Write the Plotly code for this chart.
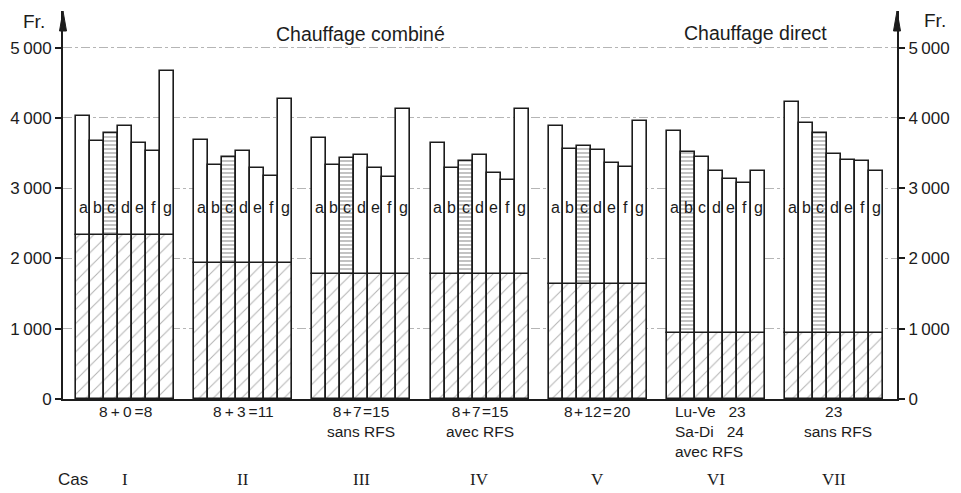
import plotly.graph_objects as go

# ---------------- data ----------------
cases = ["I", "II", "III", "IV", "V", "VI", "VII"]
letters = ["a", "b", "c", "d", "e", "f", "g"]
case_labels = [
    "8\u2009+\u20090\u2009=8",
    "8\u2009+\u20093\u2009=11",
    "8\u200a+\u200a7\u200a=15<br>sans RFS",
    "8\u200a+\u200a7\u200a=15<br>avec RFS",
    "8\u200a+\u200a12\u200a=\u200a20",
    "Lu-Ve\u00a0\u00a0\u00a023<br>Sa-Di\u00a0\u00a0\u00a024<br>avec RFS",
    "23\u00a0\u00a0<br>sans RFS",
]
base_values = [2340, 1930, 1780, 1775, 1630, 935, 935]
totals_I = [4030, 3675, 3790, 3890, 3645, 3530, 4670]
totals_II = [3685, 3330, 3440, 3530, 3290, 3175, 4275]
totals_III = [3720, 3330, 3425, 3465, 3290, 3155, 4130]
totals_IV = [3640, 3280, 3380, 3475, 3215, 3115, 4130]
totals_V = [3885, 3555, 3600, 3540, 3355, 3295, 3960]
totals_VI = [3815, 3515, 3440, 3245, 3125, 3070, 3245]
totals_VII = [4220, 3920, 3780, 3480, 3400, 3380, 3250]
highlight_bar = [2, 2, 2, 2, 2, 1, 2]
y_ticks = [0, 1000, 2000, 3000, 4000, 5000]
y_tick_text = ["0", "1\u2009000", "2\u2009000", "3\u2009000", "4\u2009000", "5\u2009000"]
titles = ["Chauffage combiné", "Chauffage direct"]

totals = [totals_I, totals_II, totals_III, totals_IV, totals_V, totals_VI, totals_VII]

# ---------------- layout geometry ----------------
W, H = 961, 493
PX0, PX1 = 63, 897          # plot area left / right (px)
PY_TOP, PY_BOT = 11, 399    # plot area top / bottom (px)
STRIDE = 118.2 / 14         # group stride in bar widths
XMIN, XMAX = -0.5 - 0.93, 6 * STRIDE + 6.5 + 0.98
YMAX = 5520

def xpaper(px):
    return (px - PX0) / (PX1 - PX0)

def ypaper(py):
    return (PY_BOT - py) / (PY_BOT - PY_TOP)

xs, bases, uppers, shapes_up = [], [], [], []
for g, tot in enumerate(totals):
    for i, t in enumerate(tot):
        xs.append(g * STRIDE + i)
        bases.append(base_values[g])
        uppers.append(t - base_values[g])
        shapes_up.append("-" if i == highlight_bar[g] else "")

INK = "#1c1c1c"

fig = go.Figure()
fig.add_trace(go.Bar(
    x=xs, y=bases, width=1,
    marker=dict(color="white", line=dict(color=INK, width=1.6),
                pattern=dict(shape="/", fgcolor="#666666", bgcolor="white",
                             size=10, solidity=0.1, fillmode="overlay")),
    hoverinfo="skip", showlegend=False))
fig.add_trace(go.Bar(
    x=xs, y=uppers, base=bases, width=1,
    marker=dict(color="white", line=dict(color=INK, width=1.6),
                pattern=dict(shape=shapes_up, fgcolor="#333333", bgcolor="white",
                             size=4, solidity=0.3, fillmode="overlay")),
    hoverinfo="skip", showlegend=False))
fig.add_trace(go.Scatter(x=[0], y=[0], yaxis="y2", mode="markers",
                         marker=dict(opacity=0), hoverinfo="skip", showlegend=False))

def note(x, y, text, xref="paper", size=16, family=None, xanchor="center",
         yanchor="middle", align="center", yref="paper"):
    f = dict(size=size, color=INK)
    if family:
        f["family"] = family
    return dict(x=x, y=y, xref=xref, yref=yref, text=text, showarrow=False,
                xanchor=xanchor, yanchor=yanchor, align=align, font=f)

ann = []
# letters inside bars
for g in range(len(cases)):
    for i, L in enumerate(letters):
        ann.append(note(g * STRIDE + i, 2720, L, xref="x", yref="y", size=16))
# case labels
for g, lab in enumerate(case_labels):
    cx = g * STRIDE + 3
    if g == 5:
        ann.append(note(g * STRIDE - 0.5 + 0.4, ypaper(401), lab, xref="x", size=15.5,
                        xanchor="left", yanchor="top", align="left"))
    else:
        ann.append(note(cx + (0.3 if g == 6 else 0), ypaper(401), lab, xref="x", size=15.5,
                        yanchor="top"))
    ann.append(note(cx, ypaper(479), cases[g], xref="x", size=17, family="Liberation Serif"))
ann.append(note(xpaper(73), ypaper(480), "Cas", size=17))
# titles
ann.append(note(xpaper(360), ypaper(34), titles[0], size=19.5))
ann.append(note(xpaper(755), ypaper(33), titles[1], size=19.5))
# axis unit labels
ann.append(note(xpaper(34), ypaper(21), "Fr.", size=19))
ann.append(note(xpaper(935), ypaper(20), "Fr.", size=19))

# arrow heads
hw = 3.5 / (PX1 - PX0)
yb = ypaper(31)
shapes = [
    dict(type="path", xref="paper", yref="paper",
         path=f"M {-hw},{yb} L 0,1 L {hw},{yb} Z", fillcolor=INK, line=dict(color=INK, width=1)),
    dict(type="path", xref="paper", yref="paper",
         path=f"M {1-hw},{yb} L 1,1 L {1+hw},{yb} Z", fillcolor=INK, line=dict(color=INK, width=1)),
]

axis_common = dict(range=[0, YMAX], tickmode="array", tickvals=y_ticks, ticktext=y_tick_text,
                   ticks="outside", ticklen=6, tickwidth=1.5, tickcolor=INK,
                   showline=True, linecolor=INK, linewidth=2, zeroline=False, automargin=False,
                   tickfont=dict(size=17, color=INK), fixedrange=True)

fig.update_layout(
    width=W, height=H,
    margin=dict(l=PX0, r=W - PX1, t=PY_TOP, b=H - PY_BOT, autoexpand=False),
    paper_bgcolor="white", plot_bgcolor="white",
    barmode="overlay", bargap=0,
    font=dict(family="Liberation Sans", color=INK),
    xaxis=dict(range=[XMIN, XMAX], showticklabels=False, ticks="", showgrid=False, automargin=False,
               showline=True, linecolor=INK, linewidth=2, zeroline=False, fixedrange=True),
    yaxis=dict(**axis_common, side="left", showgrid=True, gridcolor="#b5b5b5",
               gridwidth=1, griddash="dashdot"),
    yaxis2=dict(**axis_common, side="right", overlaying="y", showgrid=False),
    annotations=ann, shapes=shapes,
)

fig.write_html("out.html", config={"displayModeBar": False},
               post_script="document.body.style.margin='0px';document.body.style.overflow='hidden';")
